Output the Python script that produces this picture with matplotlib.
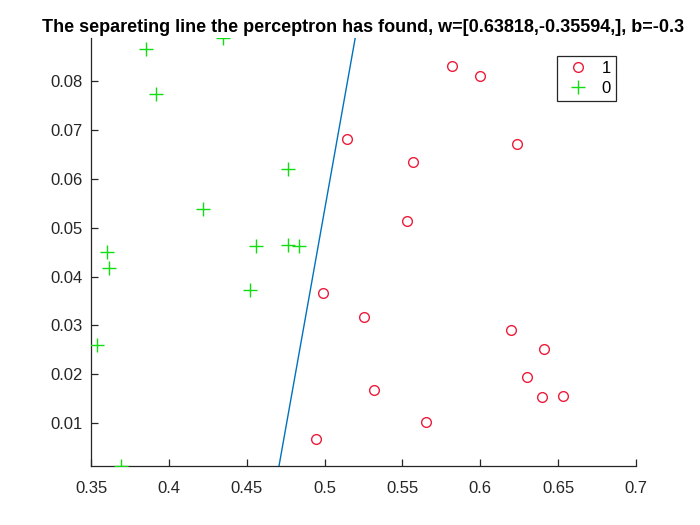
import matplotlib

matplotlib.use("Agg")
import matplotlib.pyplot as plt
import numpy as np

plt.rcParams["font.family"] = ["Liberation Sans", "DejaVu Sans"]

# class 1 samples (red circles)
pos_x = [0.5819, 0.6000, 0.5144, 0.6238, 0.5570, 0.5531, 0.4990, 0.5253,
         0.6198, 0.6411, 0.6300, 0.6399, 0.6530, 0.5316, 0.5652, 0.4945]
pos_y = [0.0831, 0.0812, 0.0681, 0.0672, 0.0634, 0.0513, 0.0366, 0.0318,
         0.0291, 0.0252, 0.0193, 0.0153, 0.0156, 0.0167, 0.0102, 0.0066]

# class 0 samples (green pluses)
neg_x = [0.3853, 0.4350, 0.3917, 0.4767, 0.4219, 0.4562, 0.4767, 0.4834,
         0.3605, 0.3616, 0.4521, 0.3540, 0.3691]
neg_y = [0.0867, 0.0888, 0.0774, 0.0620, 0.0539, 0.0463, 0.0465, 0.0462,
         0.0450, 0.0418, 0.0372, 0.0260, 0.0011]

# perceptron weights and bias
w = [0.63818, -0.35594]
b = -0.3

x_ticks = [0.35, 0.4, 0.45, 0.5, 0.55, 0.6, 0.65, 0.7]
y_ticks = [0.01, 0.02, 0.03, 0.04, 0.05, 0.06, 0.07, 0.08]

axis_color = "#262626"

fig = plt.figure(figsize=(7.0, 5.25), dpi=100)
ax = fig.add_axes([0.13, 0.1124, 0.7786, 0.8152])

ax.plot(pos_x, pos_y, "o", ms=7, mfc="none", mec="#ec1c3a", mew=1.0, label="1", zorder=3)
ax.plot(neg_x, neg_y, "+", ms=10, color="#11dd11", mew=1.0, label="0", zorder=3)

line_x = np.array([0.35, 0.7])
line_y = -(w[0] * line_x + b) / w[1]
ax.plot(line_x, line_y, color="#0072BD", lw=1.0, zorder=2)

ax.set_xlim(0.35, 0.7)
ax.set_ylim(0.00115, 0.0889)
ax.set_xticks(x_ticks)
ax.set_xticklabels([f"{v:g}" for v in x_ticks])
ax.set_yticks(y_ticks)
ax.set_yticklabels([f"{v:g}" for v in y_ticks])

for side in ("top", "right"):
    ax.spines[side].set_visible(False)
for side in ("left", "bottom"):
    ax.spines[side].set_color(axis_color)
    ax.spines[side].set_linewidth(0.9)
ax.tick_params(direction="in", length=5, width=0.9, colors=axis_color,
               labelsize=12, pad=6)
ax.tick_params(axis="x", pad=11)

ax.set_title("The separeting line the perceptron has found, w=[0.63818,-0.35594,], b=-0.3",
             fontsize=13, fontweight="bold", pad=4)

leg = ax.legend(loc="upper right", bbox_to_anchor=(0.88, 0.8933),
                bbox_transform=fig.transFigure, borderaxespad=0,
                fancybox=False, fontsize=12, handlelength=2.0,
                handletextpad=0.4, borderpad=0.3, labelspacing=0.3,
                framealpha=1)
leg.get_frame().set_edgecolor(axis_color)
leg.get_frame().set_linewidth(0.9)

fig.savefig("out.png", dpi=100)
